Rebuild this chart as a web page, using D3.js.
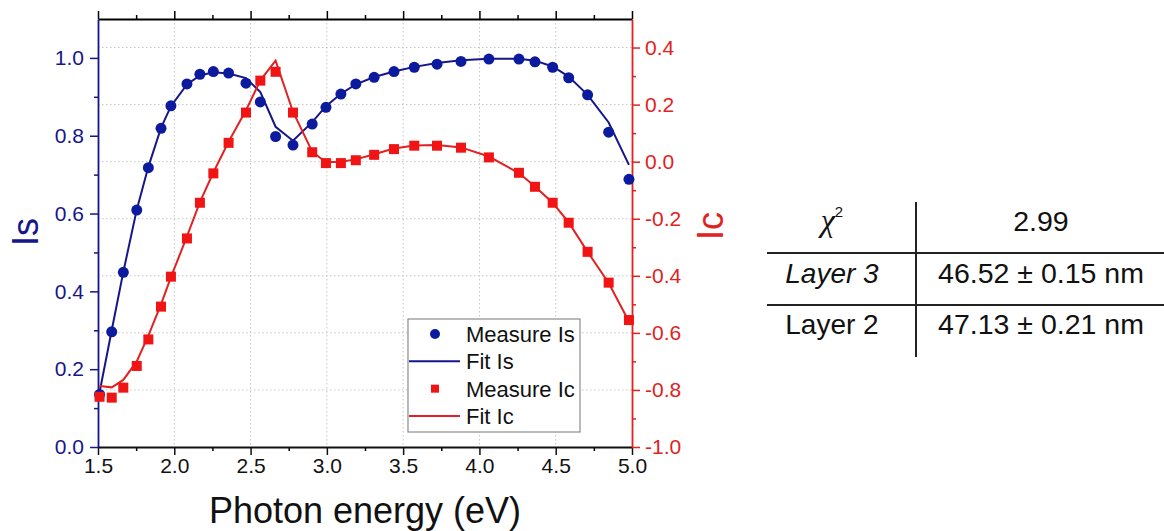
<!DOCTYPE html>
<html>
<head>
<meta charset="utf-8">
<script src="https://cdn.jsdelivr.net/npm/d3@7"></script>
<style>
  html, body { margin: 0; padding: 0; background: #fff; }
  svg { display: block; font-family: "Liberation Sans", Arial, sans-serif; }
</style>
</head>
<body>
<svg id="chart" width="1164" height="531"></svg>
<script>
// Photon energy (eV) of each measured point
const energy = [1.51, 1.59, 1.666, 1.754, 1.83, 1.913, 1.978, 2.083, 2.168, 2.256, 2.356, 2.47, 2.564, 2.664, 2.778, 2.904,
                2.994, 3.092, 3.19, 3.31, 3.44, 3.573, 3.722, 3.879, 4.062, 4.259, 4.364, 4.48, 4.585, 4.709, 4.847, 4.98];
// Is: measured and fitted
const measureIs = [0.135, 0.296, 0.449, 0.609, 0.718, 0.819, 0.877, 0.933, 0.958, 0.965, 0.961, 0.935, 0.887, 0.798, 0.776, 0.830,
                   0.873, 0.907, 0.933, 0.950, 0.965, 0.976, 0.984, 0.991, 0.997, 0.997, 0.990, 0.976, 0.949, 0.905, 0.809, 0.688];
const fitIs = [0.14, 0.30, 0.45, 0.61, 0.72, 0.82, 0.876, 0.932, 0.955, 0.963, 0.960, 0.948, 0.912, 0.823, 0.787, 0.835,
               0.876, 0.908, 0.932, 0.951, 0.965, 0.977, 0.987, 0.994, 0.998, 0.998, 0.993, 0.978, 0.952, 0.905, 0.834, 0.725];
// Ic: measured and fitted
const measureIc = [-0.824, -0.827, -0.792, -0.716, -0.623, -0.508, -0.403, -0.269, -0.144, -0.041, 0.066, 0.172, 0.284, 0.315, 0.172, 0.033,
                   -0.005, -0.005, 0.005, 0.024, 0.044, 0.056, 0.056, 0.049, 0.015, -0.039, -0.088, -0.144, -0.214, -0.316, -0.424, -0.555];
const fitIc = [-0.786, -0.791, -0.765, -0.70, -0.61, -0.50, -0.405, -0.262, -0.142, -0.038, 0.07, 0.18, 0.285, 0.354, 0.175, 0.035,
               -0.002, 0.0, 0.008, 0.026, 0.046, 0.057, 0.058, 0.05, 0.018, -0.04, -0.087, -0.144, -0.213, -0.316, -0.425, -0.56];

// Axis ticks
const xTicks = [1.5, 2.0, 2.5, 3.0, 3.5, 4.0, 4.5, 5.0];
const xMinor = [1.75, 2.25, 2.75, 3.25, 3.75, 4.25, 4.75];
const isTicks = [0.0, 0.2, 0.4, 0.6, 0.8, 1.0];
const isMinor = [0.1, 0.3, 0.5, 0.7, 0.9];
const icTicks = [-1.0, -0.8, -0.6, -0.4, -0.2, 0.0, 0.2, 0.4];
const icMinor = [-0.9, -0.7, -0.5, -0.3, -0.1, 0.1, 0.3];

// Legend entries and fit-result table
const legendLabels = ["Measure Is", "Fit Is", "Measure Ic", "Fit Ic"];
const tableRows = [
  { name: "χ", sup: "2", value: "2.99", italic: true },
  { name: "Layer 3", sup: null, value: "46.52 ± 0.15 nm", italic: true },
  { name: "Layer 2", sup: null, value: "47.13 ± 0.21 nm", italic: false }
];

const NAVY = "#16168a", NAVY_M = "#0c1a9e", RED = "#e02222", RED_M = "#f01414";
const plot = { left: 98, right: 632, top: 19, bottom: 447 };
// one decimal, plain hyphen for negatives
const fmt = d => d3.format(".1f")(d).replace("\u2212", "-");

const svg = d3.select("#chart");
const x = d3.scaleLinear().domain([1.5, 5.0]).range([plot.left, plot.right]);
const yS = d3.scaleLinear().domain([0, 1.1]).range([plot.bottom, plot.top]);
const yC = d3.scaleLinear().domain([-1.0, 0.5]).range([plot.bottom, plot.top]);

// dotted grid
const grid = svg.append("g").attr("stroke", "#c4c4c4").attr("stroke-width", 1).attr("stroke-dasharray", "1.5,2.5");
grid.selectAll("line.v").data(xTicks.slice(1, -1)).join("line")
  .attr("x1", d => x(d)).attr("x2", d => x(d)).attr("y1", plot.top).attr("y2", plot.bottom);
grid.selectAll("line.h").data(icTicks.slice(1)).join("line")
  .attr("x1", plot.left).attr("x2", plot.right).attr("y1", d => yC(d)).attr("y2", d => yC(d));

function styleAxis(g, color, fontSize) {
  g.selectAll(".domain").attr("stroke", color).attr("stroke-width", 1.8);
  g.selectAll(".tick line").attr("stroke", color).attr("stroke-width", 1.5);
  g.selectAll(".tick text").attr("fill", color).attr("font-size", fontSize)
    .attr("font-family", "'Liberation Sans', Arial, sans-serif");
}

// minor ticks
function minor(axisFn, scale, vals, color, transform) {
  const g = svg.append("g").attr("transform", transform)
    .call(axisFn(scale).tickValues(vals).tickSize(4).tickFormat(""));
  g.select(".domain").remove();
  g.selectAll(".tick line").attr("stroke", color).attr("stroke-width", 1.5);
}
minor(d3.axisBottom, x, xMinor, "#000", `translate(0,${plot.bottom})`);
minor(d3.axisTop, x, xMinor, "#000", `translate(0,${plot.top})`);
minor(d3.axisLeft, yS, isMinor, NAVY, `translate(${plot.left},0)`);
minor(d3.axisRight, yC, icMinor, RED, `translate(${plot.right},0)`);

// major axes
const gTop = svg.append("g").attr("transform", `translate(0,${plot.top})`)
  .call(d3.axisTop(x).tickValues(xTicks).tickSize(8).tickSizeOuter(0).tickFormat(""));
styleAxis(gTop, "#000", 21);
const gBottom = svg.append("g").attr("transform", `translate(0,${plot.bottom})`)
  .call(d3.axisBottom(x).tickValues(xTicks).tickSize(8).tickSizeOuter(0).tickPadding(3).tickFormat(fmt));
styleAxis(gBottom, "#111", 21);
const gLeft = svg.append("g").attr("transform", `translate(${plot.left},0)`)
  .call(d3.axisLeft(yS).tickValues(isTicks).tickSize(8).tickSizeOuter(0).tickPadding(6).tickFormat(fmt));
styleAxis(gLeft, NAVY, 21);
const gRight = svg.append("g").attr("transform", `translate(${plot.right},0)`)
  .call(d3.axisRight(yC).tickValues(icTicks).tickSize(8).tickSizeOuter(0).tickPadding(5).tickFormat(fmt));
styleAxis(gRight, RED, 21);

// axis titles
svg.append("text").attr("x", (plot.left + plot.right) / 2).attr("y", 523)
  .attr("text-anchor", "middle").attr("font-size", 36).attr("fill", "#111").text("Photon energy (eV)");
svg.append("text").attr("transform", "translate(38,232) rotate(-90)")
  .attr("text-anchor", "middle").attr("font-size", 36).attr("fill", NAVY).text("Is");
svg.append("text").attr("transform", "translate(723,226) rotate(-90)")
  .attr("text-anchor", "middle").attr("font-size", 36).attr("fill", RED).text("Ic");

// series
const idx = d3.range(energy.length);
const lineS = d3.line().x(i => x(energy[i])).y(i => yS(fitIs[i]));
const lineC = d3.line().x(i => x(energy[i])).y(i => yC(fitIc[i]));

svg.append("path").attr("d", lineS(idx)).attr("fill", "none").attr("stroke", NAVY).attr("stroke-width", 2);
svg.append("g").selectAll("circle").data(idx).join("circle")
  .attr("cx", i => x(energy[i])).attr("cy", i => yS(measureIs[i])).attr("r", 5.5).attr("fill", NAVY_M);

svg.append("path").attr("d", lineC(idx)).attr("fill", "none").attr("stroke", RED).attr("stroke-width", 2);
const sq = 10;
svg.append("g").selectAll("rect").data(idx).join("rect")
  .attr("x", i => x(energy[i]) - sq / 2).attr("y", i => yC(measureIc[i]) - sq / 2)
  .attr("width", sq).attr("height", sq).attr("fill", RED_M);

// legend
const lg = svg.append("g");
lg.append("rect").attr("x", 408).attr("y", 319).attr("width", 172).attr("height", 113)
  .attr("fill", "#fff").attr("stroke", "#8c8c8c").attr("stroke-width", 1.2);
const rowY = d3.scalePoint().domain(legendLabels).range([334, 416]);
legendLabels.forEach((lab, k) => {
  const cy = rowY(lab);
  if (k === 0) lg.append("circle").attr("cx", 435).attr("cy", cy).attr("r", 5).attr("fill", NAVY_M);
  if (k === 1) lg.append("line").attr("x1", 409).attr("x2", 460).attr("y1", cy).attr("y2", cy).attr("stroke", NAVY).attr("stroke-width", 2);
  if (k === 2) lg.append("rect").attr("x", 431).attr("y", cy - 4).attr("width", 8).attr("height", 8).attr("fill", RED_M);
  if (k === 3) lg.append("line").attr("x1", 409).attr("x2", 460).attr("y1", cy).attr("y2", cy).attr("stroke", RED).attr("stroke-width", 2);
  lg.append("text").attr("x", 466).attr("y", cy).attr("dy", "0.36em").attr("font-size", 22).attr("fill", "#111").text(lab);
});

// fit-result table
const tb = svg.append("g").attr("fill", "#111");
const rowBase = [231, 283, 334];
tb.append("line").attr("x1", 916).attr("x2", 916).attr("y1", 202).attr("y2", 357).attr("stroke", "#222").attr("stroke-width", 2);
[253, 305].forEach(yy => tb.append("line").attr("x1", 767).attr("x2", 1164).attr("y1", yy).attr("y2", yy)
  .attr("stroke", "#222").attr("stroke-width", 2));
tableRows.forEach((r, k) => {
  const t = tb.append("text").attr("x", 832).attr("y", rowBase[k]).attr("text-anchor", "middle").attr("font-size", 28);
  if (r.sup) {
    t.append("tspan").attr("font-family", "'Liberation Serif', serif").attr("font-style", "italic").attr("font-size", 32).text(r.name);
    t.append("tspan").attr("font-size", 15).attr("dy", -14).text(r.sup);
  } else {
    t.attr("font-style", r.italic ? "italic" : "normal").text(r.name);
  }
  tb.append("text").attr("x", 1041).attr("y", rowBase[k]).attr("text-anchor", "middle").attr("font-size", 28.5).text(r.value);
});
</script>
</body>
</html>
